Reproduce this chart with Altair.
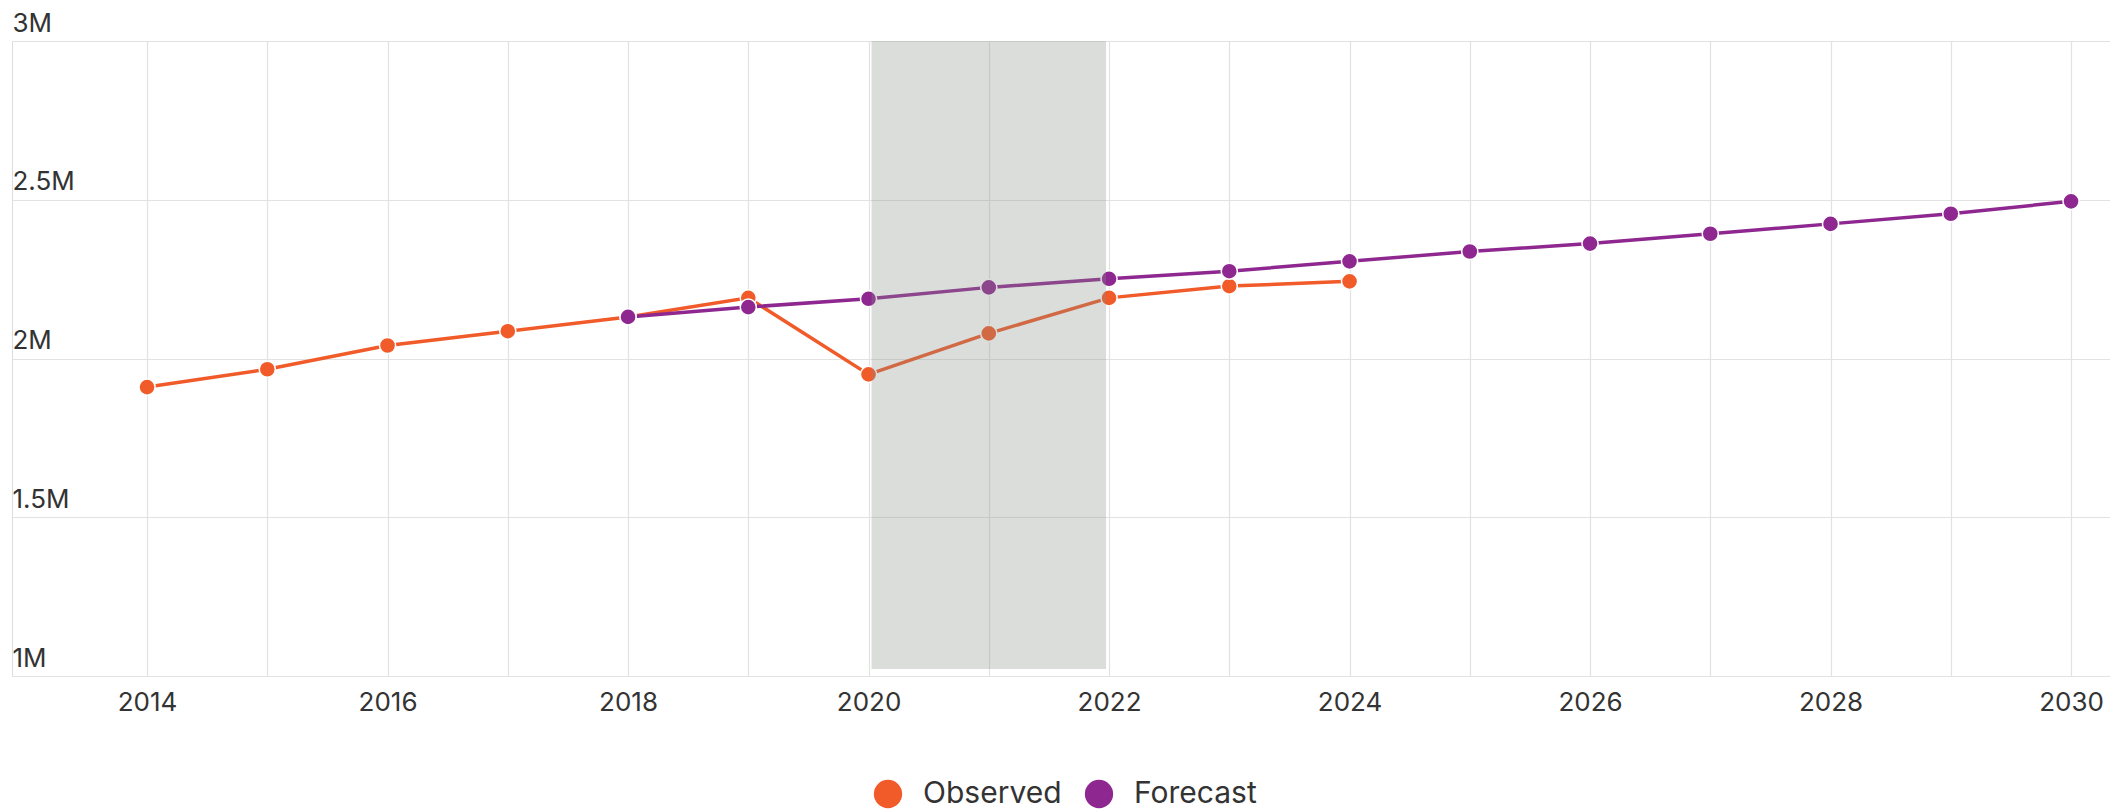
import altair as alt
import pandas as pd

# ---- data ----
obs_years = [2014, 2015, 2016, 2017, 2018, 2019, 2020, 2021, 2022, 2023, 2024]
obs_values = [1.910e6, 1.966e6, 2.041e6, 2.086e6, 2.131e6, 2.191e6, 1.950e6,
              2.079e6, 2.191e6, 2.228e6, 2.243e6]
fc_years = [2018, 2019, 2020, 2021, 2022, 2023, 2024, 2025, 2026, 2027, 2028, 2029, 2030]
fc_values = [2.131e6, 2.162e6, 2.188e6, 2.224e6, 2.251e6, 2.275e6, 2.306e6,
             2.337e6, 2.362e6, 2.393e6, 2.424e6, 2.456e6, 2.495e6]
series_names = ["Observed", "Forecast"]
series_colors = ["#f15a29", "#8e278f"]
band_start = [2020]
band_end = [2022]
x_ticks = list(range(2014, 2031))
y_ticks = [1.0e6, 1.5e6, 2.0e6, 2.5e6, 3.0e6]

rows = [{"year": y, "value": v, "series": "Observed"} for y, v in zip(obs_years, obs_values)]
rows += [{"year": y, "value": v, "series": "Forecast"} for y, v in zip(fc_years, fc_values)]
df = pd.DataFrame(rows)
band_df = pd.DataFrame({"start": band_start, "end": band_end})

FONT = "Inter"
W, H = 2098, 635

x_scale = alt.Scale(domain=[2012.877, 2030.324], nice=False, zero=False)
y_scale = alt.Scale(domain=[1.0e6, 3.0e6], nice=False, zero=False)

x_axis = alt.Axis(values=x_ticks, title=None, grid=True, domain=False, ticks=False,
                  labelExpr="datum.value % 2 == 0 ? '' + datum.value : ''",
                  labelFontSize=26, labelColor="#333333", labelFont=FONT,
                  labelPadding=13, gridColor="#e2e2e2", gridWidth=1.2,
                  labelOverlap=False)
y_axis = alt.Axis(values=y_ticks, title=None, grid=True, domain=False, ticks=False,
                  labelExpr="(datum.value / 1000000) + 'M'",
                  labelAlign="left", labelBaseline="alphabetic", labelPadding=0,
                  labelOffset=-10, labelFontSize=26, labelColor="#333333",
                  labelFont=FONT, gridColor="#e2e2e2", gridWidth=1.2)

color = alt.Color("series:N",
                  scale=alt.Scale(domain=series_names, range=series_colors),
                  legend=alt.Legend(title=None, orient="none", direction="horizontal",
                                    legendX=861, legendY=738,
                                    symbolType="circle", symbolSize=800,
                                    symbolStrokeWidth=0, labelFontSize=30,
                                    labelFont=FONT, labelColor="#333333",
                                    labelOffset=20, columnPadding=22,
                                    symbolOpacity=1))

lines = alt.Chart(df).mark_line(
    strokeWidth=3.5,
    point=alt.OverlayMarkDef(filled=True, size=260, stroke="white", strokeWidth=1.5, opacity=1),
).encode(
    x=alt.X("year:Q", scale=x_scale, axis=x_axis),
    y=alt.Y("value:Q", scale=y_scale, axis=y_axis),
    color=color,
    detail="series:N",
    order=alt.Order("year:Q"),
)

band = alt.Chart(band_df).mark_rect(
    color="#879089", opacity=0.3, xOffset=3, x2Offset=-3, y2Offset=-7
).encode(
    x=alt.X("start:Q", scale=x_scale),
    x2="end:Q",
    y=alt.datum(3.0e6, scale=y_scale),
    y2=alt.datum(1.0e6),
)

chart = alt.layer(lines, band).properties(
    width=W, height=H,
    padding={"left": 4, "top": 2, "right": 0, "bottom": 0},
).configure_view(stroke=None).configure(background="white", font=FONT)

chart.save("out.html", embed_options={"renderer": "svg", "actions": False})
